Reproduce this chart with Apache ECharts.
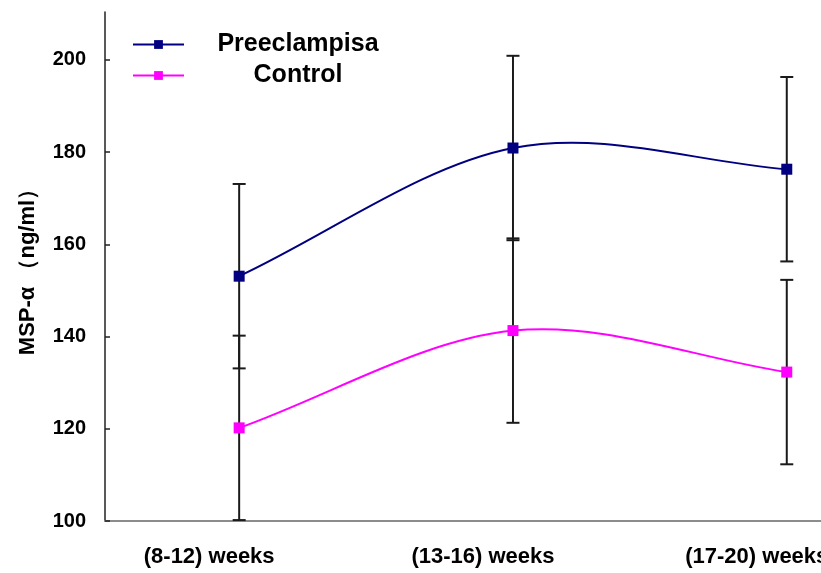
<!DOCTYPE html>
<html>
<head>
<meta charset="utf-8">
<script src="https://cdn.jsdelivr.net/npm/echarts@6/dist/echarts.min.js"></script>
<style>
  html, body { margin: 0; padding: 0; background: #fff; }
  #chart { width: 821px; height: 573px; }
</style>
</head>
<body>
<div id="chart"></div>
<script>
// Gestational windows on the x axis
var categories = ['(8-12) weeks', '(13-16) weeks', '(17-20) weeks'];
// Mean MSP-α (ng/ml) per group and its standard deviation
var preeclampsiaMean = [153.1, 180.9, 176.3];
var preeclampsiaSD = [20, 20, 20];
var controlMean = [120.2, 141.3, 132.3];
var controlSD = [20, 20, 20];
// Y axis tick values
var yTicks = [100, 120, 140, 160, 180, 200];

var FONT = 'Liberation Sans, Arial, sans-serif';
var catIndex = categories.map(function (c, i) { return i; });

function points(means) {
  return means.map(function (m, i) { return [catIndex[i], m]; });
}

function errorData(means, sds) {
  return means.map(function (m, i) { return [catIndex[i], m - sds[i], m + sds[i]]; });
}

function renderErrorBar(params, api) {
  var x = api.value(0);
  var lo = api.coord([x, api.value(1)]);
  var hi = api.coord([x, api.value(2)]);
  var cap = 6.5;
  var style = { stroke: '#1a1a1a', lineWidth: 2 };
  return {
    type: 'group',
    children: [
      { type: 'line', shape: { x1: hi[0], y1: hi[1], x2: lo[0], y2: lo[1] }, style: style },
      { type: 'line', shape: { x1: hi[0] - cap, y1: hi[1], x2: hi[0] + cap, y2: hi[1] }, style: style },
      { type: 'line', shape: { x1: lo[0] - cap, y1: lo[1], x2: lo[0] + cap, y2: lo[1] }, style: style }
    ]
  };
}

// Smoothed connector between consecutive means (cardinal spline drawn as cubic Béziers)
function makeCurveRenderer(means, color) {
  return function (params, api) {
    var i = params.dataIndex;
    if (i >= means.length - 1) return null;
    var p = means.map(function (m, k) { return api.coord([catIndex[k], m]); });
    var p0 = p[i], p1 = p[i + 1];
    var t0, t1;
    if (i === 0) {
      t0 = [(p1[0] - p0[0]) / 3, (p1[1] - p0[1]) / 3];
    } else {
      t0 = [(p1[0] - p[i - 1][0]) / 6, (p1[1] - p[i - 1][1]) / 6];
    }
    if (i + 1 === p.length - 1) {
      t1 = [(p1[0] - p0[0]) / 3, (p1[1] - p0[1]) / 3];
    } else {
      t1 = [(p[i + 2][0] - p0[0]) / 6, (p[i + 2][1] - p0[1]) / 6];
    }
    return {
      type: 'bezierCurve',
      shape: {
        x1: p0[0], y1: p0[1], x2: p1[0], y2: p1[1],
        cpx1: p0[0] + t0[0], cpy1: p0[1] + t0[1],
        cpx2: p1[0] - t1[0], cpy2: p1[1] - t1[1]
      },
      style: { stroke: color, lineWidth: 2, fill: null }
    };
  };
}

var chart = echarts.init(document.getElementById('chart'), null, { renderer: 'canvas' });

chart.setOption({
  animation: false,
  backgroundColor: '#ffffff',
  grid: { left: 105, top: 12, right: 0, bottom: 52, containLabel: false, outerBoundsMode: 'none' },
  legend: {
    orient: 'vertical',
    left: 127,
    top: 27,
    itemWidth: 51,
    itemHeight: 11,
    itemGap: 6,
    lineStyle: { width: 2, opacity: 1 },
    data: ['Preeclampisa', 'Control'],
    formatter: function (name) { return '{t|' + name + '}'; },
    textStyle: {
      rich: {
        t: { width: 218, align: 'center', fontFamily: FONT, fontWeight: 'bold', fontSize: 25, lineHeight: 31, color: '#000' }
      }
    }
  },
  xAxis: {
    type: 'value',
    // the last band runs past the right edge of the plot
    min: -0.49,
    max: 2.125,
    axisLine: { onZero: false, lineStyle: { color: '#8c8c8c', width: 2 } },
    axisTick: { show: false },
    axisLabel: {
      margin: 25, customValues: catIndex,
      padding: [0, 60, 0, 0],
      formatter: function (v) { return categories[Math.round(v)]; },
      fontFamily: FONT, fontWeight: 'bold', fontSize: 22, color: '#000'
    },
    splitLine: { show: false }
  },
  yAxis: {
    type: 'value',
    min: 100,
    max: 210.4,
    interval: 20,
    name: 'MSP-α （ng/ml）',
    nameLocation: 'middle',
    nameGap: 66,
    nameRotate: 90,
    nameTextStyle: { fontFamily: FONT, fontWeight: 'bold', fontSize: 22, color: '#000' },
    axisLine: { show: true, onZero: false, lineStyle: { color: '#222', width: 1.5 } },
    axisTick: { show: true, inside: true, length: 5, customValues: yTicks, lineStyle: { color: '#222', width: 1.5 } },
    axisLabel: { margin: 19, customValues: yTicks, fontFamily: FONT, fontWeight: 'bold', fontSize: 20, color: '#000' },
    splitLine: { show: false }
  },
  series: [
    {
      type: 'custom',
      name: 'Preeclampisa SD',
      renderItem: renderErrorBar,
      data: errorData(preeclampsiaMean, preeclampsiaSD),
      encode: { x: 0, y: [1, 2] },
      z: 1,
      silent: true
    },
    {
      type: 'custom',
      name: 'Control SD',
      renderItem: renderErrorBar,
      data: errorData(controlMean, controlSD),
      encode: { x: 0, y: [1, 2] },
      z: 1,
      silent: true
    },
    {
      type: 'custom',
      name: 'Preeclampisa curve',
      renderItem: makeCurveRenderer(preeclampsiaMean, '#000080'),
      data: points(preeclampsiaMean),
      encode: { x: 0, y: 1 },
      z: 2,
      silent: true
    },
    {
      type: 'custom',
      name: 'Control curve',
      renderItem: makeCurveRenderer(controlMean, '#ff00ff'),
      data: points(controlMean),
      encode: { x: 0, y: 1 },
      z: 2,
      silent: true
    },
    {
      type: 'line',
      name: 'Preeclampisa',
      data: points(preeclampsiaMean),
      symbol: 'rect',
      symbolSize: 11,
      color: '#000080',
      lineStyle: { color: '#000080', width: 2, opacity: 0 },
      itemStyle: { color: '#000080' },
      z: 3
    },
    {
      type: 'line',
      name: 'Control',
      data: points(controlMean),
      symbol: 'rect',
      symbolSize: 11,
      color: '#ff00ff',
      lineStyle: { color: '#ff00ff', width: 2, opacity: 0 },
      itemStyle: { color: '#ff00ff' },
      z: 3
    }
  ]
});
</script>
</body>
</html>
